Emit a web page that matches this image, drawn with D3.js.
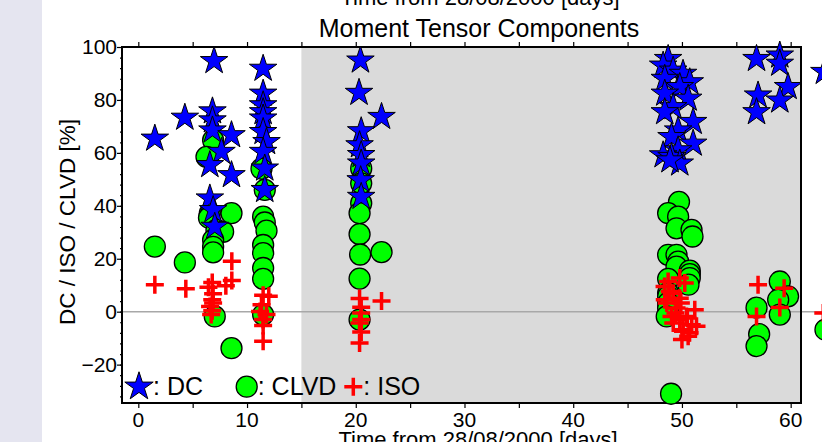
<!DOCTYPE html>
<html><head><meta charset="utf-8">
<script src="https://cdn.jsdelivr.net/npm/d3@7"></script>
<style>body{margin:0;background:#fff}svg{display:block;font-family:"Liberation Sans",Arial,sans-serif}</style>
</head><body><svg id="c" width="822" height="442"></svg>
<script>
// ---- data (day, percent) ----
const dcDays = [1.52,4.28,6.97,6.82,6.82,6.82,8.57,7.65,6.58,8.57,6.58,6.88,7.03,
 11.48,11.48,11.48,11.48,11.48,11.48,11.79,11.48,11.63,11.63,
 20.43,20.3,22.37,20.5,20.35,20.5,20.5,20.45,20.5,
 48.73,48.27,49.19,50.1,48.42,50.72,49.8,48.42,50.57,49.19,48.42,51.03,49.65,49.04,51.03,49.65,48.27,49.04,49.8,48.9,
 56.86,59.0,59.0,59.76,57.0,59.0,56.86,63.1];
const dcVals = [65.4,73.3,94.7,75.7,72.3,68.5,66.7,60.4,55.4,51.6,42.8,38.4,32.1,
 91.8,82.4,78,75.4,73,67.9,64.1,60.4,54.1,46,
 94.9,82.7,73.6,68.2,62.9,59.2,56,49.7,43.4,
 95.5,93,91.1,89.9,88,86.7,84.9,82.4,80.5,77.3,75.4,71.7,68.5,66,63.5,61,59.1,58.5,56,57.2,
 95.5,96.8,93.7,84.9,81.7,79.8,75.4,90.6];
const clvdDays = [1.52,4.28,6.88,6.27,6.58,6.5,7.19,7.8,6.88,6.88,6.88,7.03,8.57,8.57,
 11.33,11.63,11.48,11.63,11.79,11.48,11.48,11.48,11.48,11.48,
 20.5,20.5,20.5,20.35,20.35,20.4,22.37,20.35,20.35,
 49.73,48.73,49.65,49.5,50.88,50.97,48.73,49.5,49.65,49.5,50.72,50.72,50.72,50.6,48.73,48.73,48.73,48.73,48.73,48.6,49.0,
 59.0,59.76,58.85,59.0,56.86,57.1,56.86,63.2];
const clvdVals = [24.6,18.6,64.8,58.5,37.2,35.5,30.9,30.2,27.1,24.5,22.4,-1.8,37.2,-13.8,
 54,46,35.9,33.7,30.6,25.2,22.1,16.5,12.4,-1.1,
 54.1,48.5,41,37.2,29.3,21.6,22.5,12.5,-3,
 41.5,37.2,35.9,31.5,30.9,28.4,21.5,21.5,18.9,17,15.5,14.2,12.7,10.2,12.4,7,5.8,3.3,1.4,-1.8,-31,
 11.4,5.8,4.5,-1.1,1.5,-8.5,-13,-6.8];
const isoDays = [1.52,4.37,8.6,8.6,8.05,6.8,6.45,6.88,6.8,6.88,6.6,6.8,6.7,
 11.48,12.0,11.33,11.2,11.79,11.48,11.48,11.48,
 20.35,22.37,20.5,20.5,20.35,20.5,20.35,20.5,
 48.73,50.26,48.88,49.8,48.42,51.18,49.5,49.04,50.42,51.34,50.1,50.57,49.8,49.8,48.4,49.2,48.6,49.9,49.4,50.5,49.2,50.9,50.1,50.7,50.0,
 57.0,59.4,59.0,56.86,63.0];
const isoVals = [10.2,8.7,19.1,11.8,9.8,11,9.2,6.8,4.5,3.3,2,0.4,-1.1,
 6.2,5.8,2.6,0.1,-1.1,-3,-5.2,-11.2,
 5.0,4.0,1.7,-0.5,-4.3,-7.7,-11.8,-3,
 11.4,10.8,7.6,5.1,4.5,0.75,1.4,-1.8,-1.8,-5.5,-7.4,-9.3,-3,12.7,9.5,7,3.3,3.3,-0.5,-2.4,-4.3,-4.9,-6.8,-8,-10.5,
 10.2,8.9,1.6,-1.8,-0.5];
const xTicks = [0,5,10,15,20,25,30,35,40,45,50,55,60];
const xLabels = [0,10,20,30,40,50,60];
const yLabels = [-20,0,20,40,60,80,100];
const xDomain = [-1.5, 60.95];
const yDomain = [-34.5, 100];
const shadeRange = [15, 60.95];
const legendItems = ["DC","CLVD","ISO"];
const titleText = "Moment Tensor Components";
const xTitle = "Time from 28/08/2000 [days]";
const yTitle = "DC / ISO / CLVD [%]";

// ---- layout ----
const L=122,R=801,T=47,B=403;
const svg=d3.select("#c");
const x=d3.scaleLinear().domain(xDomain).range([L,R]);
const y=d3.scaleLinear().domain(yDomain).range([B,T]);

svg.append("rect").attr("x",0).attr("y",0).attr("width",42).attr("height",442).attr("fill","#e5e5f0");
svg.append("rect").attr("x",x(shadeRange[0])).attr("y",T).attr("width",x(shadeRange[1])-x(shadeRange[0])).attr("height",B-T).attr("fill","#dadada");
svg.append("line").attr("x1",L).attr("x2",822).attr("y1",y(0)).attr("y2",y(0)).attr("stroke","#a8a8a8").attr("stroke-width",1.5);

// axes
const gB=svg.append("g").attr("transform",`translate(0,${B})`)
  .call(d3.axisBottom(x).tickValues(xTicks).tickSize(5).tickFormat(""));
const gT=svg.append("g").attr("transform",`translate(0,${T})`)
  .call(d3.axisTop(x).tickValues(xTicks).tickSize(5).tickFormat(""));
const gLm=svg.append("g").attr("transform",`translate(${L},0)`)
  .call(d3.axisLeft(y).tickValues(d3.range(-32,101,4)).tickSize(2).tickFormat(""));
const gL=svg.append("g").attr("transform",`translate(${L},0)`)
  .call(d3.axisLeft(y).tickValues(yLabels).tickSize(5).tickFormat(d3.format("d")));
[gB,gT,gLm,gL].forEach(g=>{g.select(".domain").remove();g.selectAll("line").attr("stroke","#000").attr("stroke-width",1.2);});
gL.selectAll("text").attr("font-size",21).attr("x",-5).attr("fill","#000").attr("font-family","Liberation Sans").text(d=>d<0?"\u2212"+Math.abs(d):d);
svg.append("g").selectAll("text").data(xLabels).join("text")
  .attr("x",d=>x(d)).attr("y",427).attr("text-anchor","middle").attr("font-size",21).text(d=>d);

// frame
svg.append("path").attr("d",`M${L},${T}H${R}V${B}H${L}Z`).attr("fill","none").attr("stroke","#000").attr("stroke-width",2);

// marks
const starPath=d3.symbol(d3.symbolStar,235)();
const circ=svg.append("g");
circ.selectAll("circle").data(d3.zip(clvdDays,clvdVals)).join("circle")
  .attr("cx",d=>x(d[0])).attr("cy",d=>y(d[1])).attr("r",10.5)
  .attr("fill","#00ff00").attr("stroke","#000").attr("stroke-width",1.3);
svg.append("g").selectAll("path").data(d3.zip(dcDays,dcVals)).join("path")
  .attr("d",starPath).attr("transform",d=>`translate(${x(d[0])},${y(d[1])})`)
  .attr("fill","#0000ff").attr("stroke","#000").attr("stroke-width",1);
const plus="M-9,0H9M0,-9V9";
svg.append("g").selectAll("path").data(d3.zip(isoDays,isoVals)).join("path")
  .attr("d",plus).attr("transform",d=>`translate(${x(d[0])},${y(d[1])})`)
  .attr("stroke","#ff0000").attr("stroke-width",3.5).attr("fill","none");

// legend
const lg=svg.append("g");
const lx=[139,246.7,353.3], ly=386.7;
lg.append("path").attr("d",d3.symbol(d3.symbolStar,250)()).attr("transform",`translate(${lx[0]},${ly})`).attr("fill","#0000ff").attr("stroke","#000");
lg.append("circle").attr("cx",lx[1]).attr("cy",ly).attr("r",10.5).attr("fill","#00ff00").attr("stroke","#000").attr("stroke-width",1.3);
lg.append("path").attr("d",plus).attr("transform",`translate(${lx[2]},${ly})`).attr("stroke","#ff0000").attr("stroke-width",3.5);
lg.selectAll("text").data(legendItems).join("text")
  .attr("x",(d,i)=>lx[i]+[14,11,10][i]).attr("y",395).attr("font-size",25).text(d=>": "+d);

// titles
svg.append("text").attr("x",479).attr("y",37).attr("text-anchor","middle").attr("font-size",25).text(titleText);
svg.append("text").attr("x",480).attr("y",5).attr("text-anchor","middle").attr("font-size",22).text(xTitle);
svg.append("text").attr("x",478).attr("y",447).attr("text-anchor","middle").attr("font-size",22).text(xTitle);
svg.append("text").attr("transform","translate(75,222) rotate(-90)").attr("text-anchor","middle").attr("font-size",22.5).text(yTitle);
</script></body></html>
